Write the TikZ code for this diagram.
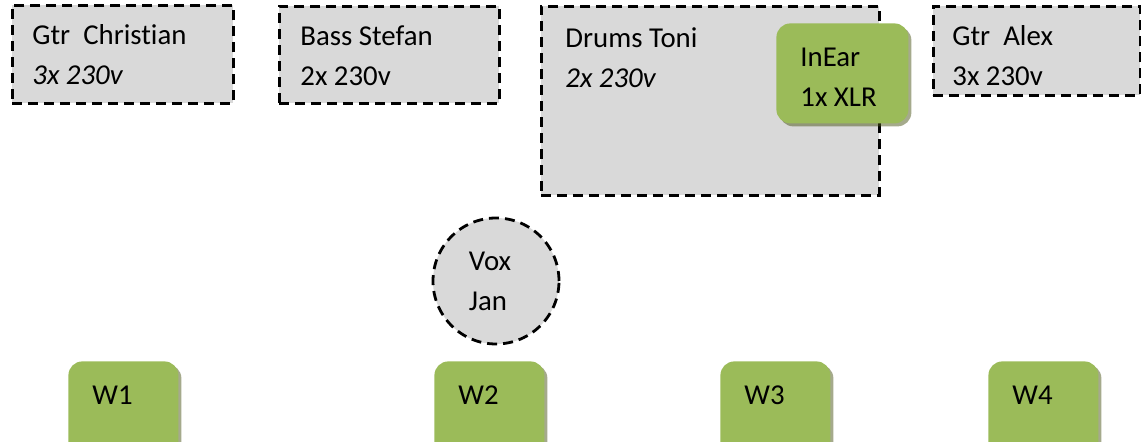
\documentclass[tikz,border=0pt]{standalone}
\usepackage{fontspec}
\setmainfont{Carlito}[Ligatures=NoCommon]
\usetikzlibrary{positioning,shadows}
\definecolor{boxgray}{RGB}{217,217,217}
\definecolor{wgreen}{RGB}{155,187,89}
\definecolor{wshadow}{RGB}{75,85,25}

\begin{document}
\begin{tikzpicture}[x=1pt, y=1pt,
    stagebox/.style={draw, fill=boxgray, rectangle, line width=1.4pt, dash pattern=on 5pt off 3pt, anchor=north west, inner sep=0pt},
    greenbox/.style={fill=wgreen, rectangle, rounded corners=7pt, anchor=north west, inner sep=0pt,
        drop shadow={shadow xshift=1.5pt, shadow yshift=-1.5pt, fill=wshadow, opacity=0.5}},
    wedge/.style={greenbox, minimum width=55pt, minimum height=52pt},
    txt/.style={font=\fontsize{14.4}{20}\selectfont, align=left, inner sep=0pt}
]
\useasboundingbox (0,0) rectangle (570.5,-221);
\clip (0,0) rectangle (570.5,-221);

% Backline
\node[stagebox, minimum width=110.5pt, minimum height=49pt] (chris) at (5.5,-2) {};
\node[txt, below right=10.3pt and 10.5pt of chris.north west] (chris-txt) {Gtr\ \ Christian\\\textit{3x 230v}};

\node[stagebox, minimum width=110pt, minimum height=48.5pt] (stefan) at (139,-2.5) {};
\node[txt, below right=10pt and 11pt of stefan.north west] (stefan-txt) {Bass Stefan\\2x 230v};

\node[stagebox, minimum width=169pt, minimum height=94.5pt] (toni) at (270,-2.5) {};
\node[txt, below right=11pt and 12.5pt of toni.north west] (toni-txt) {Drums Toni\\\textit{2x 230v}};

\node[stagebox, minimum width=103.5pt, minimum height=44.5pt] (alex) at (466,-2.5) {};
\node[txt, below right=10pt and 10pt of alex.north west] (alex-txt) {Gtr\ \ Alex\\3x 230v};

% InEar at the drums
\node[greenbox, minimum width=66pt, minimum height=50pt] (inear) at (388,-11.5) {};
\node[txt, below right=12.5pt and 12pt of inear.north west] (inear-txt) {InEar\\1x XLR};

% Vocals
\node[draw, fill=boxgray, circle, line width=1.4pt, dash pattern=on 5pt off 3pt, minimum size=63pt, inner sep=0pt,
    txt] (jan) at (248,-140.5) {\raisebox{-2pt}{Vox}\rule{6pt}{0pt}\\\raisebox{-2pt}{Jan}\rule{6pt}{0pt}};

% Wedges
\node[wedge] (w1) at (34,-180.5) {};
\node[txt, below right=12.3pt and 12pt of w1.north west] (w1-txt) {W1};
\node[wedge] (w2) at (217,-180.5) {};
\node[txt, below right=12.3pt and 12pt of w2.north west] (w2-txt) {W2};
\node[wedge] (w3) at (360,-180.5) {};
\node[txt, below right=12.3pt and 12pt of w3.north west] (w3-txt) {W3};
\node[wedge] (w4) at (494,-180.5) {};
\node[txt, below right=12.3pt and 12pt of w4.north west] (w4-txt) {W4};

\end{tikzpicture}
\end{document}
